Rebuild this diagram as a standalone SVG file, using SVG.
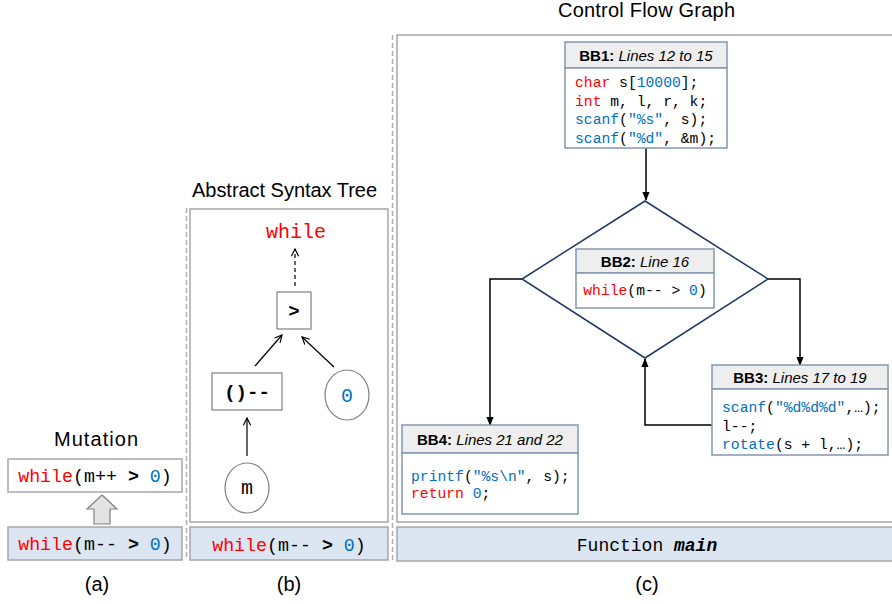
<svg xmlns="http://www.w3.org/2000/svg" width="892" height="604" viewBox="0 0 892 604">
<defs>
<marker id="open" viewBox="0 0 10 10" refX="9" refY="5" markerWidth="9" markerHeight="9" markerUnits="userSpaceOnUse" orient="auto">
<path d="M1,1 L9,5 L1,9" fill="none" stroke="#000" stroke-width="1.3"/>
</marker>
<marker id="solid" viewBox="0 0 10 10" refX="9" refY="5" markerWidth="9" markerHeight="9" markerUnits="userSpaceOnUse" orient="auto">
<path d="M0,1 L10,5 L0,9 Z" fill="#000"/>
</marker>
</defs>
<style>
.box{fill:#fff;stroke:#a6a6a6;stroke-width:1.5}
.bbox{fill:#dce6f2;stroke:#a6a6a6;stroke-width:1.5}
.sep{stroke:#b0b0b0;stroke-width:1.5;stroke-dasharray:5,3;fill:none}
.title{font-family:"Liberation Sans",Arial,sans-serif;font-size:20px;fill:#000;text-anchor:middle}
.mono{font-family:"Liberation Mono","DejaVu Sans Mono",monospace;fill:#000}
.big{font-size:18.3px}
.kw{fill:#ff0000}
.bl{fill:#0070c0}
.b{font-weight:bold}
.bbh{fill:#eeeeee;stroke:#8497b0;stroke-width:1.5}
.bbb{fill:#fff;stroke:#8497b0;stroke-width:1.5}
.hdr{font-family:"Liberation Sans",Arial,sans-serif;font-size:15px;text-anchor:middle;fill:#000}
.code{font-family:"Liberation Mono","DejaVu Sans Mono",monospace;font-size:14.7px;fill:#000}
.conn{stroke:#000;stroke-width:1.5;fill:none}
.ast{stroke:#000;stroke-width:1.2;fill:none}
.node{fill:#fff;stroke:#808080;stroke-width:1.2}
</style>

<!-- separators -->
<line class="sep" x1="186.5" y1="208" x2="186.5" y2="560"/>
<line class="sep" x1="392.5" y1="35" x2="392.5" y2="562"/>

<!-- (a) Mutation -->
<g id="mutation">
<text class="title" x="96" y="446" textLength="84" lengthAdjust="spacing">Mutation</text>
<rect class="box" x="8" y="459" width="174" height="33"/>
<text class="mono big" x="95" y="482" text-anchor="middle"><tspan class="kw">while</tspan>(m++ <tspan class="b">&gt;</tspan> <tspan class="bl">0</tspan>)</text>
<polygon points="102,495 117,509 110,509 110,524 94,524 94,509 87,509" fill="#e3e3e3" stroke="#808080" stroke-width="1.2"/>
<rect class="bbox" x="8" y="527" width="174" height="33"/>
<text class="mono big" x="95" y="550" text-anchor="middle"><tspan class="kw">while</tspan>(m-- <tspan class="b">&gt;</tspan> <tspan class="bl">0</tspan>)</text>
<text class="title" x="97" y="591">(a)</text>
</g>

<!-- (b) AST -->
<g id="ast">
<text class="title" x="284.5" y="197" textLength="185" lengthAdjust="spacing">Abstract Syntax Tree</text>
<rect class="box" x="190" y="209" width="198" height="313"/>
<rect class="bbox" x="190" y="527" width="198" height="33"/>
<text class="mono big" x="289" y="551" text-anchor="middle"><tspan class="kw">while</tspan>(m-- <tspan class="b">&gt;</tspan> <tspan class="bl">0</tspan>)</text>
<text class="title" x="289" y="591">(b)</text>
</g>
<g id="ast-while">
<text class="mono kw" x="296" y="238" font-size="20" text-anchor="middle">while</text>
</g>
<g id="ast-gt">
<rect class="node" x="277" y="292" width="34" height="37"/>
<text class="mono b" x="294" y="317" font-size="19" text-anchor="middle">&gt;</text>
</g>
<g id="ast-dec">
<rect class="node" x="212" y="373" width="70" height="37"/>
<text class="mono b" x="247" y="398" font-size="19" text-anchor="middle">()--</text>
</g>
<g id="ast-zero">
<ellipse class="node" cx="347" cy="395" rx="22" ry="25"/>
<text class="mono bl" x="347" y="402" font-size="20" text-anchor="middle">0</text>
</g>
<g id="ast-m">
<ellipse class="node" cx="247" cy="488" rx="22" ry="25"/>
<text class="mono" x="247" y="494" font-size="20" text-anchor="middle">m</text>
</g>
<g id="ast-edges">
<line class="ast" x1="295" y1="286" x2="295" y2="249" stroke-dasharray="4,3" marker-end="url(#open)"/>
<line class="ast" x1="247" y1="456" x2="247" y2="418" marker-end="url(#open)"/>
<line class="ast" x1="255" y1="366" x2="282" y2="335" marker-end="url(#open)"/>
<line class="ast" x1="334" y1="367" x2="302" y2="337" marker-end="url(#open)"/>
</g>

<!-- (c) CFG -->
<g id="cfg-frame">
<text class="title" x="646.5" y="17" textLength="177" lengthAdjust="spacing">Control Flow Graph</text>
<rect class="box" x="397" y="35" width="500" height="487"/>
<rect class="bbox" x="397" y="527" width="500" height="34"/>
<text class="mono" x="647" y="551" font-size="18" text-anchor="middle">Function <tspan font-weight="bold" font-style="italic">main</tspan></text>
<text class="title" x="647" y="591">(c)</text>
</g>

<g id="cfg-edges">
<line class="conn" x1="646" y1="148" x2="646" y2="200" marker-end="url(#solid)"/>
<polyline class="conn" points="522,279 490,279 490,425" marker-end="url(#solid)"/>
<polyline class="conn" points="768,279 800,279 800,365" marker-end="url(#solid)"/>
<polyline class="conn" points="712,425 645,425 645,359" marker-end="url(#solid)"/>
</g>

<g id="bb1">
<rect class="bbh" x="565" y="42" width="162" height="26"/>
<rect class="bbb" x="565" y="68" width="162" height="80"/>
<text class="hdr" x="646" y="60.5"><tspan font-weight="bold">BB1:</tspan> <tspan font-style="italic">Lines 12 to 15</tspan></text>
<text class="code" x="575" y="87"><tspan class="kw">char</tspan> s[<tspan class="bl">10000</tspan>];</text>
<text class="code" x="575" y="105.5"><tspan class="kw">int</tspan> m, l, r, k;</text>
<text class="code" x="575" y="124"><tspan class="bl">scanf</tspan>(<tspan class="bl">"%s"</tspan>, s);</text>
<text class="code" x="575" y="142.5"><tspan class="bl">scanf</tspan>(<tspan class="bl">"%d"</tspan>, &amp;m);</text>
</g>

<g id="bb2">
<polygon points="645,201 768,279 645,358 522,279" fill="#fff" stroke="#1f3864" stroke-width="1.5"/>
<rect class="bbh" x="576" y="249" width="138" height="24" stroke="#c5cbd8"/>
<rect class="bbb" x="576" y="273" width="138" height="35" stroke="#c5cbd8"/>
<text class="hdr" x="645" y="266.5"><tspan font-weight="bold">BB2:</tspan> <tspan font-style="italic">Line 16</tspan></text>
<text class="code" x="645" y="295" text-anchor="middle"><tspan class="kw">while</tspan>(m-- &gt; <tspan class="bl">0</tspan>)</text>
</g>

<g id="bb3">
<rect class="bbh" x="712" y="365" width="176" height="24"/>
<rect class="bbb" x="712" y="389" width="176" height="66"/>
<text class="hdr" x="800" y="382.5"><tspan font-weight="bold">BB3:</tspan> <tspan font-style="italic">Lines 17 to 19</tspan></text>
<text class="code" x="722" y="412"><tspan class="bl">scanf</tspan>(<tspan class="bl">"%d%d%d"</tspan>,…);</text>
<text class="code" x="722" y="430.5">l--;</text>
<text class="code" x="722" y="449"><tspan class="bl">rotate</tspan>(s + l,…);</text>
</g>

<g id="bb4">
<rect class="bbh" x="402" y="425" width="176" height="28"/>
<rect class="bbb" x="402" y="453" width="176" height="61"/>
<text class="hdr" x="490" y="445"><tspan font-weight="bold">BB4:</tspan> <tspan font-style="italic">Lines 21 and 22</tspan></text>
<text class="code" x="411" y="481"><tspan class="bl">printf</tspan>(<tspan class="bl">"%s\n"</tspan>, s);</text>
<text class="code" x="411" y="498"><tspan class="kw">return</tspan> <tspan class="bl">0</tspan>;</text>
</g>
</svg>
